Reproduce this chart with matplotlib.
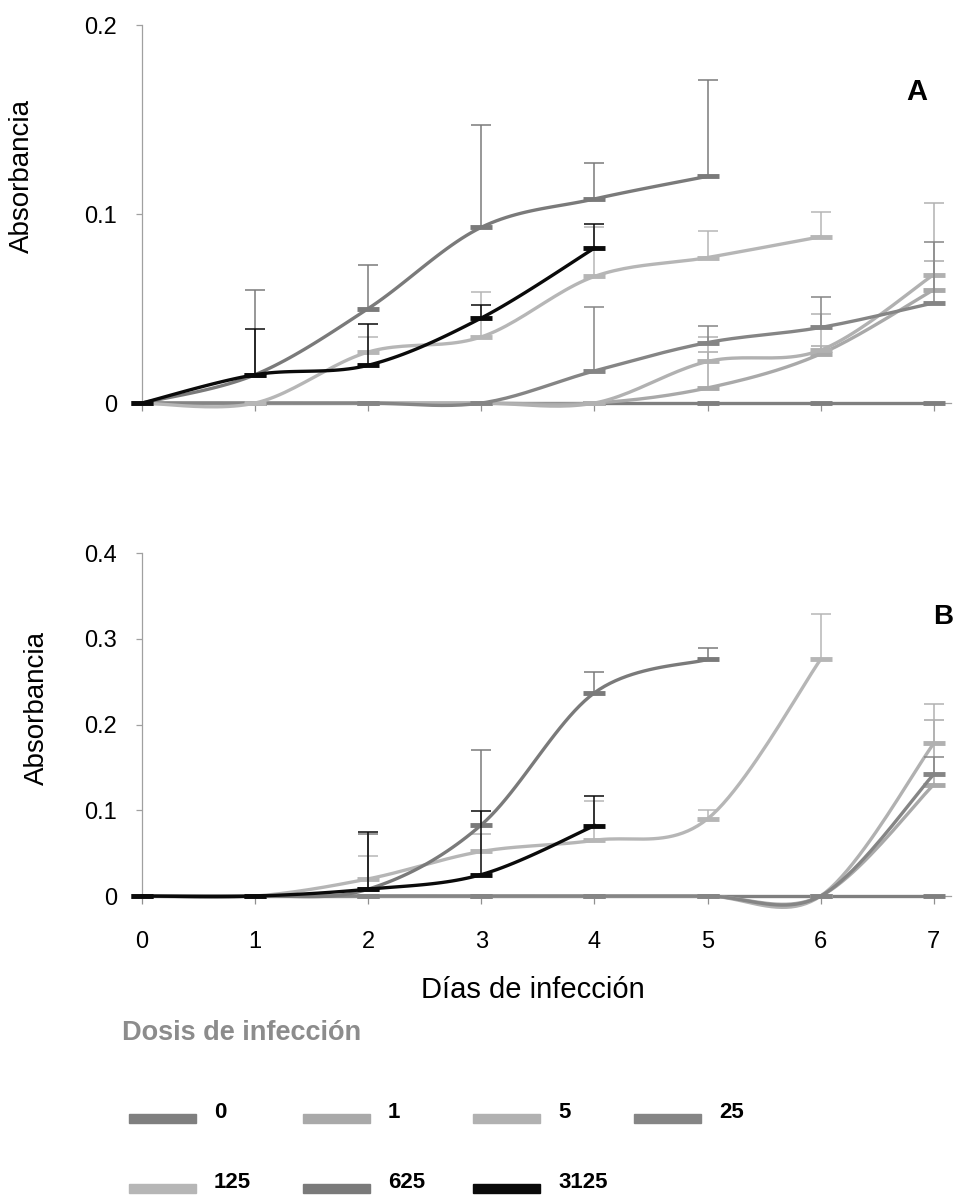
import numpy as np
import matplotlib.pyplot as plt
from matplotlib.patches import Rectangle

plt.rcParams['font.family'] = ['Liberation Sans', 'DejaVu Sans']

dias = np.arange(8)
dosis = ['0', '1', '5', '25', '125', '625', '3125']
colores = ['#7f7f7f', '#a9a9a9', '#b1b1b1', '#858585', '#b6b6b6', '#7a7a7a', '#0a0a0a']

# A: absorbancia media y error (solo hacia arriba)
absA_0 = [0, 0, 0, 0, 0, 0, 0, 0]
absA_1 = [0, 0, 0, 0, 0, 0.008, 0.026, 0.060]
absA_5 = [0, 0, 0, 0, 0, 0.022, 0.028, 0.068]
absA_25 = [0, 0, 0, 0, 0.017, 0.032, 0.040, 0.053]
absA_125 = [0, 0, 0.027, 0.035, 0.067, 0.077, 0.088]
absA_625 = [0, 0.015, 0.050, 0.093, 0.108, 0.120]
absA_3125 = [0, 0.015, 0.020, 0.045, 0.082]

errA_0 = [0, 0, 0, 0, 0, 0, 0, 0]
errA_1 = [0, 0, 0, 0, 0, 0.019, 0.004, 0.015]
errA_5 = [0, 0, 0, 0, 0, 0.013, 0.019, 0.038]
errA_25 = [0, 0, 0, 0, 0.034, 0.009, 0.016, 0.032]
errA_125 = [0, 0, 0.008, 0.024, 0.026, 0.014, 0.013]
errA_625 = [0, 0.045, 0.023, 0.054, 0.019, 0.051]
errA_3125 = [0, 0.024, 0.022, 0.007, 0.013]

# B
absB_0 = [0, 0, 0, 0, 0, 0, 0, 0]
absB_1 = [0, 0, 0, 0, 0, 0, 0, 0.130]
absB_5 = [0, 0, 0, 0, 0, 0, 0, 0.178]
absB_25 = [0, 0, 0, 0, 0, 0, 0, 0.142]
absB_125 = [0, 0, 0.020, 0.052, 0.065, 0.090, 0.276]
absB_625 = [0, 0, 0.008, 0.083, 0.237, 0.276]
absB_3125 = [0, 0, 0.008, 0.025, 0.082]

errB_0 = [0, 0, 0, 0, 0, 0, 0, 0]
errB_1 = [0, 0, 0, 0, 0, 0, 0, 0.075]
errB_5 = [0, 0, 0, 0, 0, 0, 0, 0.046]
errB_25 = [0, 0, 0, 0, 0, 0, 0, 0.020]
errB_125 = [0, 0, 0.027, 0.020, 0.046, 0.010, 0.053]
errB_625 = [0, 0, 0.064, 0.087, 0.024, 0.013]
errB_3125 = [0, 0, 0.067, 0.074, 0.035]

serie_a = [absA_0, absA_1, absA_5, absA_25, absA_125, absA_625, absA_3125]
error_a = [errA_0, errA_1, errA_5, errA_25, errA_125, errA_625, errA_3125]
serie_b = [absB_0, absB_1, absB_5, absB_25, absB_125, absB_625, absB_3125]
error_b = [errB_0, errB_1, errB_5, errB_25, errB_125, errB_625, errB_3125]


def suavizar(x, y, n=24):
    # curva bezier tipo Catmull-Rom que pasa por cada punto (linea suavizada)
    p = np.column_stack([x, y]).astype(float)
    out = [p[0]]
    t = np.linspace(0, 1, n)[1:, None]
    for i in range(len(p) - 1):
        p0 = p[i - 1] if i > 0 else p[i]
        p3 = p[i + 2] if i + 2 < len(p) else p[i + 1]
        c1 = p[i] + (p[i + 1] - p0) / 6
        c2 = p[i + 1] - (p3 - p[i]) / 6
        seg = ((1 - t) ** 3 * p[i] + 3 * (1 - t) ** 2 * t * c1
               + 3 * (1 - t) * t ** 2 * c2 + t ** 3 * p[i + 1])
        out.extend(seg)
    return np.array(out)


def dibujar(ax, valores, errores, ymax, yticks, ylabels):
    for k, (col, y, e) in enumerate(zip(colores, valores, errores)):
        y = np.asarray(y, float)
        e = np.asarray(e, float)
        x = dias[:len(y)]
        z = 3 + k * 0.1
        c = suavizar(x, y)
        ax.plot(c[:, 0], c[:, 1], color=col, lw=2.4, clip_on=False, zorder=z)
        ax.plot(x, y, ls='none', marker='_', ms=16, mew=3.5, color=col,
                clip_on=False, zorder=z + 0.05)
        m = e > 0
        if m.any():
            ax.errorbar(x[m], y[m], yerr=[np.zeros(m.sum()), e[m]], fmt='none',
                        ecolor=col, elinewidth=1.1, capsize=7, capthick=1.1,
                        zorder=z)
    ax.set_xlim(0, 7.15)
    ax.set_ylim(0, ymax)
    ax.set_xticks(dias)
    ax.set_yticks(yticks)
    ax.set_yticklabels(ylabels)
    for s in ['top', 'right']:
        ax.spines[s].set_visible(False)
    for s in ['left', 'bottom']:
        ax.spines[s].set_color('#a0a0a0')
        ax.spines[s].set_linewidth(0.9)
    ax.tick_params(axis='y', direction='out', length=4, width=0.9,
                   color='#a0a0a0', labelsize=17, pad=14)
    ax.tick_params(axis='x', direction='out', length=6, width=0.9,
                   color='#909090', labelsize=17, pad=19)


fig = plt.figure(figsize=(9.56, 11.96), dpi=100)
ax_a = fig.add_axes([0.1485, 0.663, 0.846, 0.316])
ax_b = fig.add_axes([0.1485, 0.2508, 0.846, 0.2868])

dibujar(ax_a, serie_a, error_a, 0.2, [0, 0.1, 0.2], ['0', '0.1', '0.2'])
dibujar(ax_b, serie_b, error_b, 0.4, [0, 0.1, 0.2, 0.3, 0.4],
        ['0', '0.1', '0.2', '0.3', '0.4'])
ax_a.tick_params(axis='x', labelbottom=False)

W, H = 956, 1196
fig.text(22 / W, 1 - 176 / H, 'Absorbancia', rotation=90, ha='center', va='center', fontsize=20)
fig.text(37 / W, 1 - 708 / H, 'Absorbancia', rotation=90, ha='center', va='center', fontsize=20)
fig.text(917 / W, 1 - 92 / H, 'A', fontsize=21, fontweight='bold', ha='center', va='center')
fig.text(943 / W, 1 - 617 / H, 'B', fontsize=20, fontweight='bold', ha='center', va='center')
fig.text(533 / W, 1 - 990 / H, 'Días de infección', fontsize=21, ha='center', va='center')
fig.text(122 / W, 1 - 1033 / H, 'Dosis de infección', fontsize=19.5, fontweight='bold',
         color='#8c8c8c', ha='left', va='center')

# leyenda: 4 columnas, 2 filas
col_x = [129, 303, 473, 634]
fila_y = [1118, 1188]
for i, (lab, col) in enumerate(zip(dosis, colores)):
    r, c = divmod(i, 4)
    x0, y0 = col_x[c], fila_y[r]
    fig.patches.append(Rectangle((x0 / W, 1 - (y0 + 4.5) / H), 67 / W, 9 / H,
                                 transform=fig.transFigure, color=col))
    fig.text((x0 + 85) / W, 1 - (y0 - 6) / H, lab, fontsize=16, fontweight='bold',
             ha='left', va='center')

fig.savefig('out.png', dpi=100)
